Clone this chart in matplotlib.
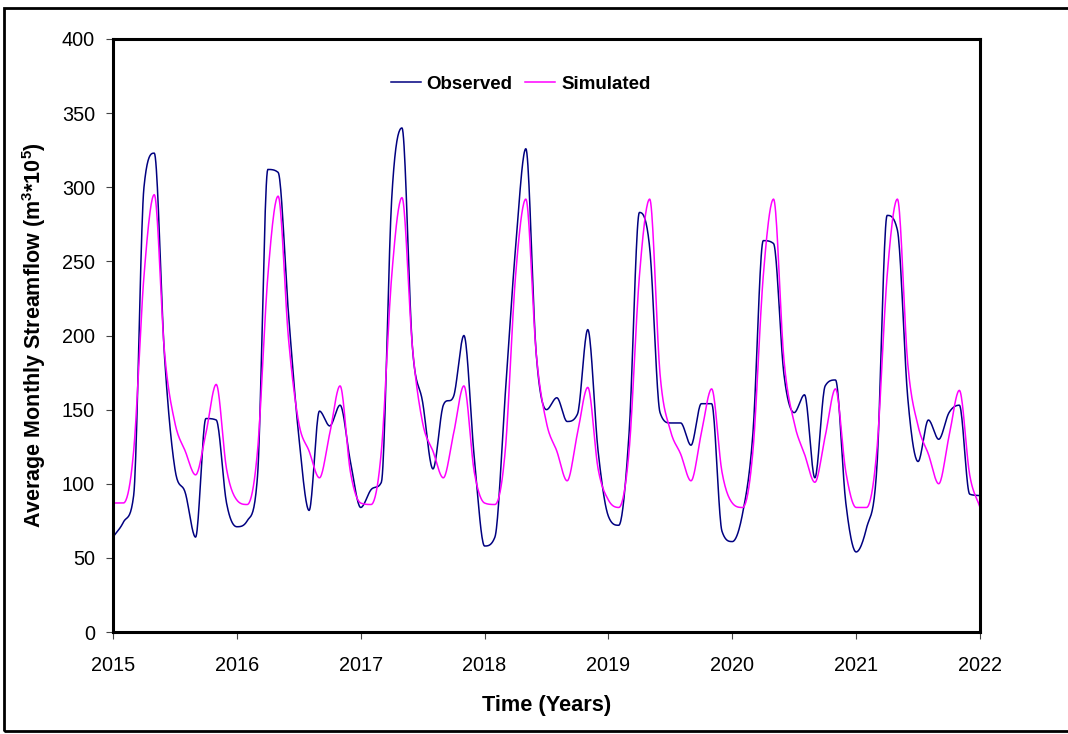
import numpy as np
import matplotlib
matplotlib.use("Agg")
import matplotlib.pyplot as plt
from matplotlib.patches import Rectangle

plt.rcParams['font.family'] = ['Liberation Sans', 'DejaVu Sans']
plt.rcParams['mathtext.default'] = 'regular'

# monthly values, Jan 2015 .. Jan 2022
observed = [64, 74, 92, 300, 323, 185, 110, 94, 64, 144, 143, 87,
            71, 75, 105, 312, 310, 215, 132, 82, 149, 139, 153, 115,
            84, 96, 101, 292, 340, 193, 155, 110, 153, 159, 200, 118,
            58, 64, 160, 259, 326, 188, 150, 158, 142, 147, 204, 122,
            78, 72, 134, 283, 259, 148, 141, 141, 126, 154, 154, 68,
            61, 80, 134, 264, 262, 174, 148, 160, 104, 166, 170, 87,
            54, 70, 110, 281, 271, 158, 115, 143, 130, 148, 153, 93,
            92]
simulated = [87, 87, 122, 240, 295, 188, 141, 122, 106, 134, 167, 110,
             89, 86, 122, 240, 294, 198, 141, 122, 104, 134, 166, 108,
             87, 86, 122, 240, 293, 193, 141, 122, 104, 134, 166, 108,
             87, 86, 122, 240, 292, 188, 141, 122, 102, 134, 165, 110,
             89, 84, 122, 240, 292, 174, 136, 120, 102, 134, 164, 108,
             87, 84, 122, 240, 292, 184, 141, 120, 101, 132, 164, 108,
             84, 84, 122, 240, 292, 181, 139, 120, 100, 132, 163, 106,
             84]
years = [2015, 2016, 2017, 2018, 2019, 2020, 2021, 2022]

t = 2015 + np.arange(len(observed)) / 12.0


def smooth(x, y, n=20):
    # monotone cubic (no overshoot at peaks), drawn as a smoothed line
    x = np.asarray(x, float)
    y = np.asarray(y, float)
    h = np.diff(x)
    d = np.diff(y) / h
    m = np.zeros_like(y)
    m[0], m[-1] = d[0], d[-1]
    for i in range(1, len(y) - 1):
        if d[i - 1] * d[i] <= 0:
            m[i] = 0.0
        else:
            m[i] = (d[i - 1] + d[i]) / 2
            lim = 3 * min(abs(d[i - 1]), abs(d[i]))
            if abs(m[i]) > lim:
                m[i] = np.sign(m[i]) * lim
    xs, ys = [], []
    s = np.linspace(0, 1, n, endpoint=False)
    for i in range(len(y) - 1):
        h00 = 2 * s ** 3 - 3 * s ** 2 + 1
        h10 = s ** 3 - 2 * s ** 2 + s
        h01 = -2 * s ** 3 + 3 * s ** 2
        h11 = s ** 3 - s ** 2
        xs.append(x[i] + s * h[i])
        ys.append(h00 * y[i] + h10 * h[i] * m[i] + h01 * y[i + 1] + h11 * h[i] * m[i + 1])
    xs.append([x[-1]])
    ys.append([y[-1]])
    return np.concatenate(xs), np.concatenate(ys)


fig = plt.figure(figsize=(10.68, 7.34), dpi=100)
ax = fig.add_axes([113 / 1068, 102 / 734, 867 / 1068, 593 / 734])

ox, oy = smooth(t, observed)
sx, sy = smooth(t, simulated)
ax.plot(ox, oy, color='#000080', lw=1.1, label='Observed')
ax.plot(sx, sy, color='#FF00FF', lw=1.1, label='Simulated')

ax.set_xlim(2015, 2022)
ax.set_ylim(0, 400)
ax.set_xticks(years)
ax.set_xticklabels([str(y) for y in years])
ax.set_yticks(range(0, 401, 50))
ax.tick_params(direction='out', length=5, width=0.8, color='#444444',
               labelsize=14.3)
ax.tick_params(axis='x', pad=12)
ax.tick_params(axis='y', pad=8)
for sp in ax.spines.values():
    sp.set_linewidth(2.2)
    sp.set_color('black')

ax.set_xlabel('Time (Years)', fontsize=15.7, fontweight='bold', labelpad=15)
ax.set_ylabel('Average Monthly Streamflow (m$^{3}$*10$^{5}$)', fontsize=15.5,
              fontweight='bold', labelpad=10)

ax.legend(loc='center', bbox_to_anchor=(0.47, 0.924), ncol=2,
          frameon=False, prop={'size': 13.5, 'weight': 'bold'},
          handlelength=1.6, columnspacing=0.7, handletextpad=0.3)

fig.patches.append(Rectangle((4 / 1068, 3 / 734), 1.05, 723 / 734,
                             transform=fig.transFigure, fill=False,
                             edgecolor='black', lw=2))

fig.savefig('out.png', dpi=100)
